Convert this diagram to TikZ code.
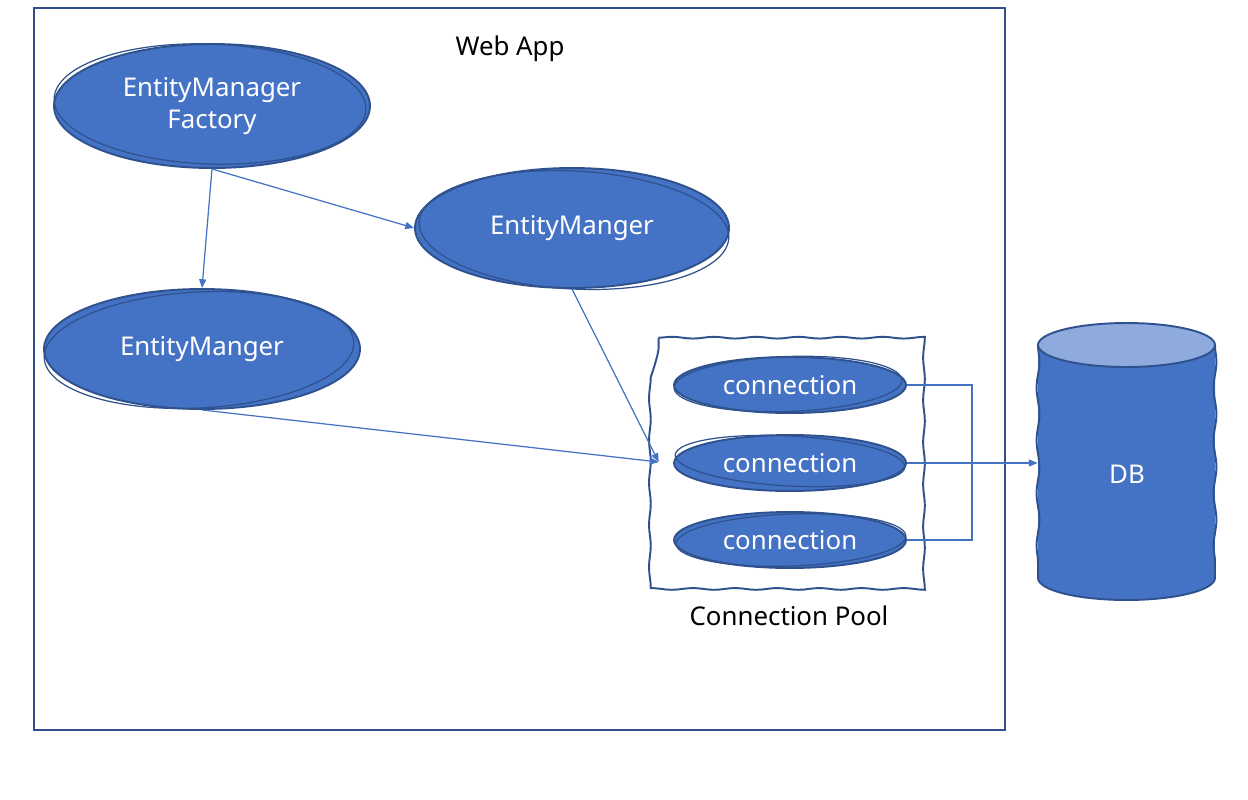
\documentclass[tikz,border=0pt]{standalone}
\usepackage{fontspec}
\setmainfont{Noto Sans}
\usetikzlibrary{arrows.meta,decorations.pathmorphing,calc,shapes.geometric}
\definecolor{bfill}{HTML}{4472C4}
\definecolor{bline}{HTML}{2F528F}
\definecolor{frameblue}{HTML}{2F4F8F}
\definecolor{topfill}{HTML}{8FAADC}
\tikzset{
  blob/.style={ellipse, fill=bfill, draw=bline, line width=1.1pt, text=white, inner sep=0pt, font=\fontsize{14.7}{18.3}\selectfont, align=center},
  sk/.style={draw=bline, line width=0.7pt},
  conn/.style={draw=bfill, line width=0.7pt, -{Triangle[length=5pt,width=4pt]}},
  plain/.style={draw=bfill, line width=0.7pt},
  lbl/.style={text=black, font=\fontsize{14.7}{17}\selectfont, inner sep=0pt},
}
\begin{document}
\begin{tikzpicture}[x=0.02cm,y=-0.02cm]
\useasboundingbox (0,0) rectangle (1248,799);
\fill[white] (0,0) rectangle (1248,799);
% Web App frame
\node[draw=frameblue, line width=1.3pt, minimum width=19.42cm, minimum height=14.44cm, inner sep=0pt] (frame) at (519.5,369) {};
\node[lbl] (webapp) at (510,49) {Web App};

% Entity ellipses
\node[blob, minimum width=6.32cm, minimum height=2.48cm] (emf) at (212,106) {EntityManager\\Factory};
\draw[sk] (emf.center) ++(-2,-2) ellipse [x radius=3.12cm, y radius=1.2cm, rotate=-2];
\node[blob, minimum width=6.28cm, minimum height=2.4cm] (em1) at (572,228) {EntityManger};
\draw[sk] (em1.center) ++(2,2) ellipse [x radius=3.1cm, y radius=1.18cm, rotate=-3];
\node[blob, minimum width=6.32cm, minimum height=2.4cm] (em2) at (202,349) {EntityManger};
\draw[sk] (em2.center) ++(-3,1) ellipse [x radius=3.1cm, y radius=1.16cm, rotate=3];

% Connection pool
\node[minimum width=5.24cm, minimum height=4.96cm, inner sep=0pt] (pool) at (790,462) {};
\draw[bline, line width=1.1pt, decorate, decoration={snake, amplitude=0.5pt, segment length=24pt}]
  (pool.north west) -- (pool.north east) -- (pool.south east) -- (pool.south west) -- cycle;
\node[lbl] (pooltxt) at (789,616) {Connection Pool};

\node[blob, minimum width=4.64cm, minimum height=1.12cm] (c1) at (790,385) {connection};
\draw[sk] (c1.center) ++(-2,-1) ellipse [x radius=2.28cm, y radius=0.55cm, rotate=2];
\node[blob, minimum width=4.64cm, minimum height=1.12cm] (c2) at (790,463) {connection};
\draw[sk] (c2.center) ++(0,-2) ellipse [x radius=2.3cm, y radius=0.5cm, rotate=-3];
\node[blob, minimum width=4.64cm, minimum height=1.12cm] (c3) at (790,540) {connection};
\draw[sk] (c3.center) ++(1,0) ellipse [x radius=2.3cm, y radius=0.52cm, rotate=2];

% DB cylinder
\node[minimum width=3.54cm, minimum height=5.1cm, inner sep=0pt] (db) at (1126.5,472) {};
\fill[bfill] (1038,345) -- (1038,578) arc[start angle=180, end angle=360, x radius=1.77cm, y radius=0.44cm] -- (1215,345) -- cycle;
\draw[bline, line width=1.1pt, decorate, decoration={snake, amplitude=0.8pt, segment length=30pt}] (1038,345) -- (1038,578);
\draw[bline, line width=1.1pt, decorate, decoration={snake, amplitude=0.8pt, segment length=30pt}] (1215,345) -- (1215,578);
\draw[bline, line width=1.1pt] (1038,578) arc[start angle=180, end angle=360, x radius=1.77cm, y radius=0.44cm];
\filldraw[fill=topfill, draw=bline, line width=1.1pt] (1126.5,345) ellipse [x radius=1.77cm, y radius=0.44cm];
\node[text=white, font=\fontsize{14.7}{17}\selectfont, inner sep=0pt] (dbtxt) at (1127,474) {DB};

% Connectors
\draw[conn] (emf.south) -- (em2.north);
\draw[conn] (emf.south) -- (em1.west);
\draw[conn] (em1.south) -- (pool.west);
\draw[conn] (em2.south) -- (pool.west);
\coordinate (jx) at (972,385);
\draw[plain] (c1.east) -- (jx) |- (c3.east);
\draw[conn] (c2.east) -- (c2.east -| db.west);
\draw[bfill, line width=1.2pt] (c2.east -| jx) -- ($(c2.east -| db.west)+(-8,0)$);
\end{tikzpicture}
\end{document}
